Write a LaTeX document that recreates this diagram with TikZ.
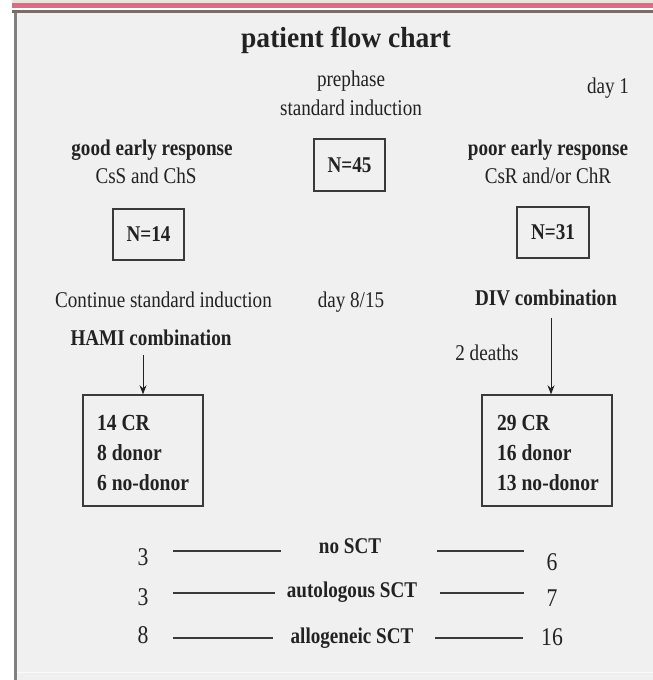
\documentclass[tikz,border=0pt]{standalone}
\usepackage{fontspec}
\setmainfont{Liberation Serif}[FakeStretch=0.85]
\newfontfamily\titlefont{Liberation Serif}[FakeStretch=0.95]
\usetikzlibrary{arrows.meta}
\definecolor{bg}{HTML}{F0F0F0}
\definecolor{ink}{HTML}{222222}
\definecolor{lineink}{HTML}{3A3A3A}
\definecolor{pinkband}{HTML}{DA6C88}
\definecolor{beigeband}{HTML}{EDE3DA}
\definecolor{darkband}{HTML}{7A6C62}
\definecolor{framegray}{HTML}{808080}
\definecolor{paleline}{HTML}{F9F9F9}
\begin{document}
\begin{tikzpicture}[x=1pt,y=-1pt,
  txt/.style={font=\fontsize{22.5}{27}\selectfont, text=ink, inner sep=0pt, anchor=base},
  btxt/.style={font=\fontsize{22.5}{27}\selectfont\bfseries, text=ink, inner sep=0pt, anchor=base},
  crtxt/.style={font=\fontsize{23}{27}\selectfont\bfseries, text=ink, inner sep=0pt, anchor=base west},
  titletxt/.style={font=\titlefont\fontsize{29}{34}\selectfont\bfseries, text=ink, inner sep=0pt, anchor=base},
  num/.style={font=\fontsize{25.5}{30}\selectfont, text=ink, inner sep=0pt, anchor=base},
  nbox/.style={draw=lineink, line width=1.4pt, font=\fontsize{22.5}{27}\selectfont\bfseries, text=ink, inner sep=0pt},
  crbox/.style={draw=lineink, line width=1.4pt, inner sep=0pt},
  conn/.style={draw=lineink, line width=1.4pt},
  arr/.style={draw=ink, line width=0.9pt, -{Stealth[length=9pt,width=7pt]}}
]
\useasboundingbox (0,0) rectangle (653,680);
\fill[white] (0,0) rectangle (653,680);
\fill[bg] (16,13) rectangle (653,680);
\fill[beigeband] (12,0) rectangle (653,3);
\fill[pinkband] (12,3) rectangle (653,7.5);
\fill[darkband] (12,9.5) rectangle (653,12.5);
\fill[framegray] (14,12.5) rectangle (17,680);
\fill[paleline] (17,671.5) rectangle (653,673);

% title and headers
\node[titletxt] (title) at (346,47) {patient flow chart};
\node[txt] (pre) at (351,86) {prephase};
\node[txt] (stdind) at (351,115) {standard induction};
\node[txt] (day1) at (608,93) {day 1};

\node[btxt] (good) at (152,155) {good early response};
\node[txt] (css) at (146,183) {CsS and ChS};
\node[btxt] (poor) at (548,155) {poor early response};
\node[txt] (csr) at (548,183) {CsR and/or ChR};

% N boxes
\node[nbox, minimum width=71pt, minimum height=52pt] (n45) at (349.5,165) {N=45};
\node[nbox, minimum width=71pt, minimum height=51pt] (n14) at (148.5,234.5) {N=14};
\node[nbox, minimum width=72pt, minimum height=51pt] (n31) at (553,232.5) {N=31};

% day 8/15 row
\node[txt] (cont) at (163.5,307) {Continue standard induction};
\node[txt] (day815) at (351,307) {day 8/15};
\node[btxt] (div) at (546,305) {DIV combination};
\node[btxt] (hami) at (151,345) {HAMI combination};
\node[txt] (deaths) at (487,360) {2 deaths};

% CR boxes
\node[crbox, minimum width=120pt, minimum height=111pt] (lbox) at (143,450.5) {};
\node[crbox, minimum width=130pt, minimum height=111pt] (rbox) at (547,450.5) {};
\node[crtxt] (l1t) at (97,430) {14 CR};
\node[crtxt] (l2t) at (97,460) {8 donor};
\node[crtxt] (l3t) at (97,490) {6 no-donor};
\node[crtxt] (r1t) at (497,430) {29 CR};
\node[crtxt] (r2t) at (497,460) {16 donor};
\node[crtxt] (r3t) at (497,490) {13 no-donor};

% arrows
\coordinate (la) at (143,355);
\coordinate (ra) at (551,318);
\draw[arr] (la) -- (la |- lbox.north);
\draw[arr] (ra) -- (ra |- rbox.north);

% SCT rows
\node[btxt] (nosct) at (350,553) {no SCT};
\node[btxt] (auto) at (352,597) {autologous SCT};
\node[btxt] (allo) at (352,643) {allogeneic SCT};
\node[num] (l1) at (143,565) {3};
\node[num] (l2) at (143,605) {3};
\node[num] (l3) at (143,643) {8};
\node[num] (r1) at (552,570) {6};
\node[num] (r2) at (552,606) {7};
\node[num] (r3) at (552,645) {16};

\coordinate (l1a) at (173,551); \coordinate (l1b) at (281,551);
\coordinate (r1a) at (437,551); \coordinate (r1b) at (524,551);
\coordinate (l2a) at (173,593); \coordinate (l2b) at (275,593);
\coordinate (r2a) at (440,593); \coordinate (r2b) at (524,593);
\coordinate (l3a) at (173,638); \coordinate (l3b) at (273,638);
\coordinate (r3a) at (435,638); \coordinate (r3b) at (523,638);
\draw[conn] (l1a) -- (l1b);
\draw[conn] (r1a) -- (r1b);
\draw[conn] (l2a) -- (l2b);
\draw[conn] (r2a) -- (r2b);
\draw[conn] (l3a) -- (l3b);
\draw[conn] (r3a) -- (r3b);
\end{tikzpicture}
\end{document}
